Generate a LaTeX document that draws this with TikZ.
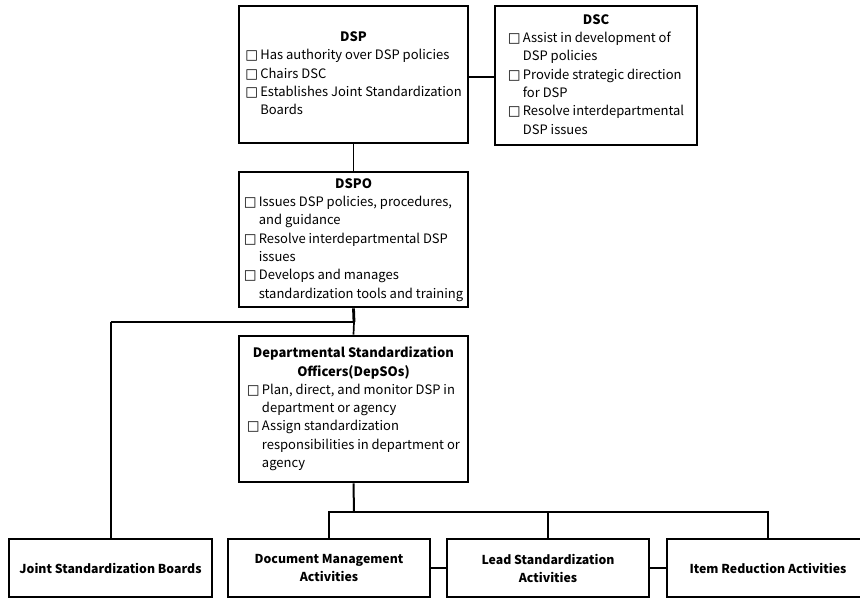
\documentclass[tikz,border=0pt]{standalone}
\usepackage{fontspec}
\setmainfont{Noto Sans CJK KR}
\newfontfamily\symfont{DejaVu Sans}
\newcommand\bxi{\makebox[15pt][l]{\symfont\fontsize{13.5pt}{13.5pt}\selectfont □}}
\newcommand\ind{\hspace*{15pt}}
\begin{document}
\begin{tikzpicture}[x=1pt,y=-1pt,
  box/.style={draw, line width=2.8pt, inner sep=0pt, align=center},
  txt/.style={font=\fontsize{13pt}{18.3pt}\selectfont},
  btxt/.style={font=\fontsize{12.3pt}{18pt}\selectfont\bfseries},
  thickln/.style={line width=2.8pt},
  thinln/.style={line width=1.7pt},
  midln/.style={line width=2pt}]
\useasboundingbox (0,0) rectangle (860,598);
\begin{scope}
\clip (0,0) rectangle (860,598);
\node[box, txt, minimum width=229pt, minimum height=137pt] (dsp) at (353.5,74.5)
 {\begin{tabular}{@{}l@{}}\multicolumn{1}{c}{\bfseries DSP}\\
 \bxi Has authority over DSP policies\\
 \bxi Chairs DSC\\
 \bxi Establishes Joint Standardization\\
 \ind Boards\end{tabular}};
\node[box, txt, minimum width=202pt, minimum height=139pt] (dsc) at (596,75.5)
 {\begin{tabular}{@{}l@{}}\multicolumn{1}{c}{\bfseries DSC}\\
 \bxi Assist in development of\\
 \ind DSP policies\\
 \bxi Provide strategic direction\\
 \ind for DSP\\
 \bxi Resolve interdepartmental\\
 \ind DSP issues\end{tabular}};
\node[box, txt, minimum width=229pt, minimum height=135pt] (dspo) at (353.5,239.5)
 {\begin{tabular}{@{}l@{}}\multicolumn{1}{c}{\bfseries DSPO}\\
 \bxi Issues DSP policies, procedures,\\
 \ind and guidance\\
 \bxi Resolve interdepartmental DSP\\
 \ind issues\\
 \bxi Develops and manages\\
 \ind standardization tools and training\end{tabular}};
\node[box, txt, minimum width=229pt, minimum height=146pt] (deps) at (353.5,409)
 {\begin{tabular}{@{}l@{}}\multicolumn{1}{c}{\bfseries Departmental Standardization}\\
 \multicolumn{1}{c}{\bfseries Officers(DepSOs)}\\
 \bxi Plan, direct, and monitor DSP in\\
 \ind department or agency\\
 \bxi Assign standardization\\
 \ind responsibilities in department or\\
 \ind agency\end{tabular}};
\node[box, btxt, minimum width=203pt, minimum height=58pt] (jsb) at (110.5,568) {Joint Standardization Boards};
\node[box, btxt, minimum width=202pt, minimum height=58pt] (doc) at (329,568) {Document Management\\Activities};
\node[box, btxt, minimum width=202pt, minimum height=58pt] (lead) at (548,568) {Lead Standardization\\Activities};
\node[box, btxt, minimum width=202pt, minimum height=58pt] (item) at (768,568) {Item Reduction Activities};
\coordinate (j1) at (354,322);
\coordinate (j2) at (354,512);
\draw[thickln] (dsp.east |- 0,77) -- (dsc.west |- 0,77);
\draw[thinln] (dsp.south) -- (dspo.north);
\draw[thickln] (dspo.south) -- (j1);
\draw[thickln] (jsb.north |- j1) -- (j1);
\draw[thinln] (j1) -- (deps.north);
\draw[midln] (jsb.north |- j1) -- (jsb.north);
\draw[midln] (deps.south) -- (j2);
\draw[midln] (doc.north) -- (doc.north |- j2) -- (item.north |- j2) -- (item.north);
\draw[midln] (lead.north |- j2) -- (lead.north);
\draw[thickln] (doc.east) -- (lead.west);
\draw[thickln] (lead.east) -- (item.west);
\end{scope}
\end{tikzpicture}
\end{document}
